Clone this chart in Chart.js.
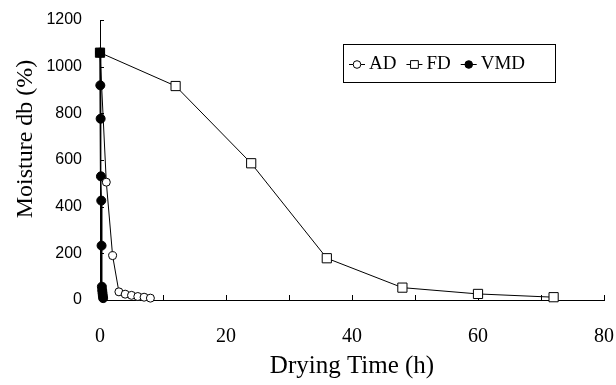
<!DOCTYPE html>
<html>
<head>
<meta charset="utf-8">
<script src="https://cdn.jsdelivr.net/npm/chart.js@4"></script>
<style>
  html, body { margin: 0; padding: 0; background: #fff; }
  #wrap { width: 616px; height: 385px; }
</style>
</head>
<body>
<div id="wrap"><canvas id="moisture-chart"></canvas></div>
<script>
// drying curves - moisture (dry basis) against drying time

// air drying
let adTime = [0, 1, 2, 3, 4, 5, 6, 7, 8]
let adMoisture = [1060, 505, 190, 35, 25, 20, 15, 12, 8]

// freeze drying
let fdTime = [0, 12, 24, 36, 48, 60, 72]
let fdMoisture = [1060, 917, 586, 179, 53, 26, 12]

// vacuum microwave drying (minutes, so tiny in hours)
let vmdTime = [0, 0.05, 0.1, 0.15, 0.2, 0.25, 0.3, 0.35, 0.4, 0.45, 0.5]
let vmdMoisture = [1060, 920, 777, 530, 426, 233, 57, 42, 30, 18, 8]

let xTicks = [0, 20, 40, 60, 80]
let yTicks = [0, 200, 400, 600, 800, 1000, 1200]

const serif = '"Liberation Serif", "Times New Roman", serif'
const sans = '"Liberation Sans", Arial, sans-serif'

function toPoints(times, values) {
    return times.map((t, i) => ({x: t, y: values[i]}))
}

// ticks pointing into the plot, like the original
const inwardTicks = {
    id: 'inwardTicks',
    beforeDatasetsDraw(chart) {
        const {ctx, chartArea, scales} = chart
        ctx.save()
        ctx.strokeStyle = '#000'
        ctx.lineWidth = 1
        ctx.beginPath()
        for (let v = 10; v <= 80; v += 10) {
            let px = Math.round(scales.x.getPixelForValue(v)) + 0.5
            ctx.moveTo(px, chartArea.bottom)
            ctx.lineTo(px, chartArea.bottom - 5)
        }
        yTicks.forEach(v => {
            if (v === 0) return
            let py = Math.round(scales.y.getPixelForValue(v)) + 0.5
            ctx.moveTo(chartArea.left, py)
            ctx.lineTo(chartArea.left + 4, py)
        })
        ctx.stroke()
        ctx.restore()
    }
}

// y title sits a bit above the middle of the axis
const yTitle = {
    id: 'yTitle',
    afterDraw(chart) {
        const {ctx} = chart
        ctx.save()
        ctx.translate(26, 139)
        ctx.rotate(-Math.PI / 2)
        ctx.font = '24px ' + serif
        ctx.fillStyle = '#000'
        ctx.textAlign = 'center'
        ctx.textBaseline = 'middle'
        ctx.fillText('Moisture db (%)', 0, 0)
        ctx.restore()
    }
}

// boxed legend inside the plot, one row
const boxLegend = {
    id: 'boxLegend',
    afterDraw(chart) {
        const {ctx} = chart
        let left = 343, top = 44, w = 212, h = 38
        let cy = top + h / 2 + 1
        ctx.save()
        ctx.fillStyle = '#fff'
        ctx.fillRect(left, top, w, h)
        ctx.strokeStyle = '#000'
        ctx.lineWidth = 1
        ctx.strokeRect(left + 0.5, top + 0.5, w, h)
        ctx.font = '19px ' + serif
        ctx.textBaseline = 'middle'
        let x = left + 6
        chart.data.datasets.forEach(ds => {
            ctx.strokeStyle = '#000'
            ctx.lineWidth = 1
            ctx.beginPath()
            ctx.moveTo(x, cy + 0.5)
            ctx.lineTo(x + 16, cy + 0.5)
            ctx.stroke()
            ctx.fillStyle = ds.legendFill
            Chart.helpers.drawPoint(ctx, {
                pointStyle: ds.pointStyle,
                radius: ds.pointStyle === 'rect' ? 5.5 : 3.8,
                borderWidth: 1
            }, x + 8, cy + 0.5)
            ctx.fillStyle = '#000'
            ctx.fillText(ds.label, x + 20, cy)
            x += 20 + ctx.measureText(ds.label).width + 10
        })
        ctx.restore()
    }
}

let ctx = document.getElementById('moisture-chart').getContext('2d')
let moistureChart = new Chart(ctx, {
    type: 'scatter',
    data: {
        datasets: [
            {
                label: 'AD',
                data: toPoints(adTime, adMoisture),
                showLine: true,
                borderColor: '#000',
                borderWidth: 1,
                pointStyle: 'circle',
                pointRadius: 4,
                pointBackgroundColor: '#fff',
                pointBorderColor: '#000',
                pointBorderWidth: 1,
                legendFill: '#fff',
                clip: false,
                order: 2
            },
            {
                label: 'FD',
                data: toPoints(fdTime, fdMoisture),
                showLine: true,
                borderColor: '#000',
                borderWidth: 1,
                pointStyle: 'rect',
                pointRadius: 6.5,
                pointBackgroundColor: fdTime.map((t, i) => i === 0 ? '#000' : '#fff'),
                pointBorderColor: '#000',
                pointBorderWidth: 1,
                legendFill: '#fff',
                clip: false,
                order: 1
            },
            {
                label: 'VMD',
                data: toPoints(vmdTime, vmdMoisture),
                showLine: true,
                borderColor: '#000',
                borderWidth: 1.5,
                pointStyle: 'circle',
                pointRadius: 4.5,
                pointBackgroundColor: '#000',
                pointBorderColor: '#000',
                pointBorderWidth: 1,
                legendFill: '#000',
                clip: false,
                order: 3
            }
        ]
    },
    options: {
        responsive: true,
        maintainAspectRatio: false,
        animation: false,
        layout: {padding: {top: 20, right: 12, left: 0, bottom: 0}},
        plugins: {
            legend: {display: false},
            tooltip: {enabled: false}
        },
        scales: {
            x: {
                type: 'linear',
                min: 0,
                max: 80,
                afterBuildTicks: scale => {
                    scale.ticks = xTicks.map(v => ({value: v}))
                },
                afterFit: scale => { scale.height = 85 },
                ticks: {
                    color: '#000',
                    font: {family: serif, size: 20},
                    padding: 0,
                    maxRotation: 0,
                    autoSkip: false,
                    callback: v => String(v)
                },
                // invisible long tick lines push the labels down without adding side padding
                grid: {display: true, drawOnChartArea: false, drawTicks: true, tickLength: 25, tickColor: 'rgba(0,0,0,0)', color: '#000'},
                border: {color: '#000', width: 1},
                title: {
                    display: true,
                    text: 'Drying Time (h)',
                    color: '#000',
                    font: {family: serif, size: 25},
                    padding: {top: 0, bottom: 4}
                }
            },
            y: {
                min: 0,
                max: 1200,
                afterBuildTicks: scale => {
                    scale.ticks = yTicks.map(v => ({value: v}))
                },
                afterFit: scale => { scale.width = 100 },
                ticks: {
                    color: '#000',
                    font: {family: sans, size: 16},
                    padding: 0,
                    callback: v => String(v)
                },
                grid: {display: true, drawOnChartArea: false, drawTicks: true, tickLength: 18, tickColor: 'rgba(0,0,0,0)', color: '#000'},
                border: {color: '#000', width: 1}
            }
        }
    },
    plugins: [inwardTicks, yTitle, boxLegend]
})
</script>
</body>
</html>
